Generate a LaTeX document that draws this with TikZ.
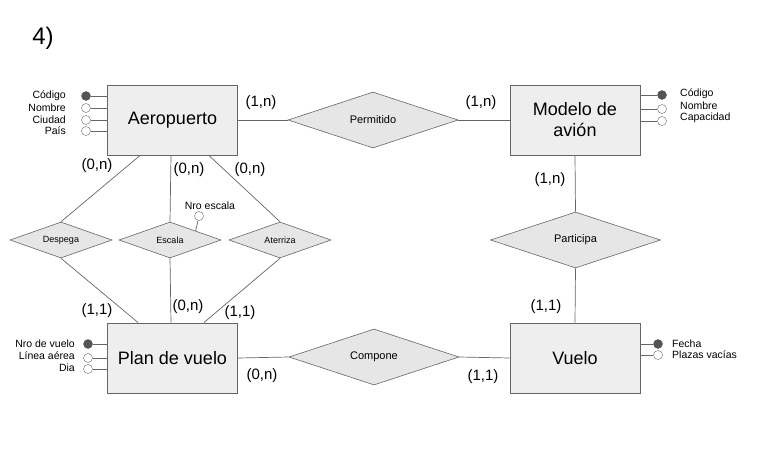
\documentclass[tikz,border=0pt]{standalone}
\usepackage{fontspec}
\setmainfont{Liberation Sans}
\usetikzlibrary{shapes.geometric}
\definecolor{boxfill}{HTML}{EEEEEE}
\definecolor{relfill}{HTML}{E6E6E6}
\definecolor{edge}{HTML}{666666}
\definecolor{dot}{HTML}{555555}
\begin{document}
\begin{tikzpicture}[x=1pt,y=-1pt,
  entity/.style={draw=edge,fill=boxfill,line width=1pt,minimum width=130pt,minimum height=70pt,inner sep=0pt,align=center,font=\fontsize{18}{21}\selectfont},
  rel/.style={diamond,draw=edge,fill=relfill,line width=0.6pt,minimum width=170pt,minimum height=56pt,inner sep=0pt,aspect=3,font=\fontsize{11}{13}\selectfont},
  srel/.style={diamond,draw=edge,fill=relfill,line width=0.6pt,minimum width=102pt,minimum height=36pt,inner sep=0pt,aspect=3,font=\fontsize{9}{11}\selectfont},
  conn/.style={draw=edge,line width=0.7pt},
  card/.style={font=\fontsize{15}{17}\selectfont,inner sep=0pt},
  keyatt/.style={circle,draw=dot,fill=dot,minimum size=9pt,inner sep=0pt},
  att/.style={circle,draw=edge,fill=white,minimum size=9pt,inner sep=0pt},
  attl/.style={font=\fontsize{10.5}{12}\selectfont,inner sep=0pt},
  attr/.style={font=\fontsize{10.5}{12}\selectfont,inner sep=0pt,anchor=west},
  attll/.style={font=\fontsize{10.5}{12}\selectfont,inner sep=0pt,anchor=east}]
\useasboundingbox (0,0) rectangle (784,450);

\node[font=\fontsize{24}{28}\selectfont,inner sep=0pt] (title) at (43,38) {4)};

% entities
\node[entity] (aero) at (172.5,120) {Aeropuerto};
\node[entity] (modelo) at (575,120) {Modelo de\\avión};
\node[entity] (plan) at (172.5,358) {Plan de vuelo};
\node[entity] (vuelo) at (575,358) {Vuelo};

% relationships
\node[rel] (perm) at (373,120) {Permitido};
\node[rel] (comp) at (374,357) {Compone};
\node[rel] (part) at (575.5,240) {Participa};
\node[srel] (desp) at (61,240) {Despega};
\node[srel] (esc) at (170,240) {Escala};
\node[srel] (ater) at (280,240) {Aterriza};

% connectors
\draw[conn] (aero.east) -- (perm.west);
\draw[conn] (perm.east) -- (modelo.west);
\draw[conn] (plan.east) -- (comp.west);
\draw[conn] (comp.east) -- (vuelo.west);
\draw[conn] (modelo.south) -- (part.north);
\draw[conn] (part.south) -- (vuelo.north);
\draw[conn] ([xshift=33pt]aero.south west) -- (desp.north);
\draw[conn] ([xshift=64pt]aero.south west) -- (esc.north);
\draw[conn] ([xshift=102pt]aero.south west) -- (ater.north);
\draw[conn] (desp.south) -- ([xshift=31pt]plan.north west);
\draw[conn] (esc.south) -- ([xshift=64pt]plan.north west);
\draw[conn] (ater.south) -- ([xshift=97pt]plan.north west);

% cardinalities
\node[card] (c1) at (261,103) {(1,n)};
\node[card] (c2) at (481,103) {(1,n)};
\node[card] (c3) at (550,180) {(1,n)};
\node[card] (c4) at (546,307) {(1,1)};
\node[card] (c5) at (262,376) {(0,n)};
\node[card] (c6) at (483,377) {(1,1)};
\node[card] (c7) at (97,166) {(0,n)};
\node[card] (c8) at (189,170) {(0,n)};
\node[card] (c9) at (250,170) {(0,n)};
\node[card] (c10) at (97,311) {(1,1)};
\node[card] (c11) at (188,307) {(0,n)};
\node[card] (c12) at (240,313) {(1,1)};

% Escala attribute
\node[att] (nroesc) at (199,216) {};
\node[attl] (nroescl) at (210,206) {Nro escala};
\draw[conn] (nroesc) -- (esc.north east);

% Aeropuerto attributes
\node[keyatt] (a1) at (86,96) {};
\node[att] (a2) at (86,108) {};
\node[att] (a3) at (86,120) {};
\node[att] (a4) at (86,131) {};
\foreach \n/\yy in {a1/96,a2/108,a3/120,a4/131}{
  \draw[conn] (\n) -- (aero.west |- 0,\yy);
}
\node[attll] (a1l) at (66,96) {Código};
\node[attll] (a2l) at (66,108) {Nombre};
\node[attll] (a3l) at (66,120) {Ciudad};
\node[attll] (a4l) at (66,131) {País};

% Modelo attributes
\node[keyatt] (m1) at (662,95) {};
\node[att] (m2) at (662,109) {};
\node[att] (m3) at (662,121) {};
\foreach \n/\yy in {m1/95,m2/109,m3/121}{
  \draw[conn] (modelo.east |- 0,\yy) -- (\n);
}
\node[attr] (m1l) at (680,94) {Código};
\node[attr] (m2l) at (680,106) {Nombre};
\node[attr] (m3l) at (680,118) {Capacidad};

% Plan de vuelo attributes
\node[keyatt] (p1) at (88,344) {};
\node[att] (p2) at (88,358) {};
\node[att] (p3) at (88,369) {};
\foreach \n/\yy in {p1/344,p2/358,p3/369}{
  \draw[conn] (\n) -- (plan.west |- 0,\yy);
}
\node[attll] (p1l) at (75,344) {Nro de vuelo};
\node[attll] (p2l) at (75,356) {Línea aérea};
\node[attll] (p3l) at (75,368) {Dia};

% Vuelo attributes
\node[keyatt] (v1) at (658,344) {};
\node[att] (v2) at (658,355) {};
\foreach \n/\yy in {v1/344,v2/355}{
  \draw[conn] (vuelo.east |- 0,\yy) -- (\n);
}
\node[attr] (v1l) at (672,344) {Fecha};
\node[attr] (v2l) at (672,355) {Plazas vacías};
\end{tikzpicture}
\end{document}
